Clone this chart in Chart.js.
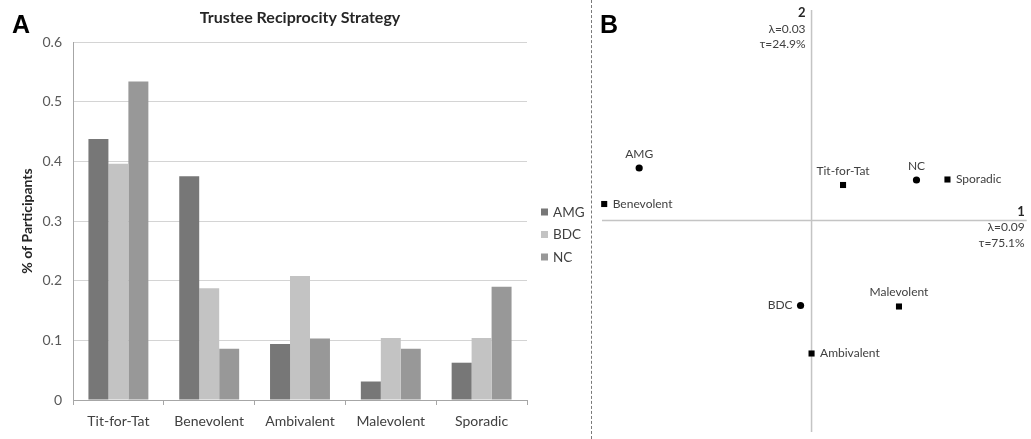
<!DOCTYPE html>
<html><head><meta charset="utf-8">
<script src="https://cdn.jsdelivr.net/npm/chart.js@4"></script>
<style>
html,body{margin:0;padding:0;background:#fff;width:1031px;height:439px;overflow:hidden;}
#a{position:absolute;left:0;top:0;}
#b{position:absolute;left:593px;top:0;}
#sep{position:absolute;left:591px;top:0;width:0;height:439px;border-left:1px dashed #7a7a7a;}
</style></head><body>
<canvas id="a" width="591" height="439"></canvas>
<div id="sep"></div>
<canvas id="b" width="438" height="439"></canvas>
<script>
// ---- Panel A data ----
const categories = ['Tit-for-Tat','Benevolent','Ambivalent','Malevolent','Sporadic'];
const seriesNames = ['AMG','BDC','NC'];
const amgValues = [0.4375, 0.375, 0.094, 0.031, 0.0625];
const bdcValues = [0.396, 0.1875, 0.208, 0.104, 0.104];
const ncValues  = [0.534, 0.086, 0.103, 0.086, 0.19];
const yTickLabels = ['0','0.1','0.2','0.3','0.4','0.5','0.6'];
const chartTitle = 'Trustee Reciprocity Strategy';
const yAxisTitle = '% of Participants';

// ---- Panel B data ----
const groupNames = ['AMG','NC','BDC'];
const groupX = [-0.345, 0.21, -0.022];
const groupY = [0.105, 0.081, -0.170];
const strategyNames = ['Benevolent','Tit-for-Tat','Sporadic','Malevolent','Ambivalent'];
const strategyX = [-0.415, 0.063, 0.272, 0.175, 0.0];
const strategyY = [0.033, 0.071, 0.082, -0.172, -0.266];
const dim1Text = ['1','λ=0.09','τ=75.1%'];
const dim2Text = ['2','λ=0.03','τ=24.9%'];

// styles (not data)
const groupPlacement = ['above','above','left'];
const strategyPlacement = ['right','above','right','above','right'];
const FAM = 'Lato, "Open Sans", sans-serif';
const colors = ['#777777','#c3c3c3','#989898'];

const decorA = {
  id:'decorA',
  afterDraw(chart){
    const c = chart.ctx, ca = chart.chartArea;
    c.save();
    c.fillStyle = '#000';
    c.font = 'bold 25px "Liberation Sans", Arial, sans-serif';
    c.textAlign = 'left'; c.textBaseline = 'alphabetic';
    c.fillText('A', 12, 33);
    c.fillStyle = '#262626';
    c.font = 'bold 16px ' + FAM;
    c.textAlign = 'center'; c.textBaseline = 'middle';
    c.fillText(chartTitle, (ca.left+ca.right)/2, 18);
    // legend
    c.font = '13.5px ' + FAM;
    c.textAlign = 'left';
    chart.data.datasets.forEach((ds,i)=>{
      const y = 212 + 22.5*i;
      c.fillStyle = ds.backgroundColor;
      c.fillRect(ca.right + 14, y-3.5, 7, 7);
      c.fillStyle = '#404040';
      c.fillText(ds.label, ca.right + 26, y+0.5);
    });
    c.restore();
  }
};

new Chart(document.getElementById('a'), {
  type:'bar',
  data:{labels:categories, datasets:[
    {label:seriesNames[0], data:amgValues, backgroundColor:colors[0]},
    {label:seriesNames[1], data:bdcValues, backgroundColor:colors[1]},
    {label:seriesNames[2], data:ncValues, backgroundColor:colors[2]}
  ]},
  options:{
    responsive:false, animation:false,
    layout:{padding:{top:42,right:64,left:0,bottom:0}},
    datasets:{bar:{categoryPercentage:0.66, barPercentage:1}},
    plugins:{legend:{display:false}, tooltip:{enabled:false}},
    scales:{
      x:{
        grid:{offset:true, drawOnChartArea:false, drawTicks:true, tickLength:5, color:'#a6a6a6'},
        border:{color:'#a6a6a6'},
        ticks:{color:'#404040', font:{family:FAM, size:14}, padding:8, maxRotation:0},
        afterFit(s){ s.height = 39; }
      },
      y:{
        min:0, max:0.6,
        ticks:{stepSize:0.1, color:'#595959', font:{family:FAM, size:14}, padding:11,
               callback:(v,i)=>yTickLabels[i]},
        grid:{color:'#d4d4d4', drawTicks:false},
        border:{color:'#a6a6a6'},
        title:{display:true, text:yAxisTitle, color:'#262626',
               font:{family:FAM, size:14, weight:'bold'}, padding:{top:19,bottom:0}},
        afterFit(s){ s.width = 73; }
      }
    }
  },
  plugins:[decorA]
});

const decorB = {
  id:'decorB',
  beforeDatasetsDraw(chart){
    const c = chart.ctx, ca = chart.chartArea;
    const x0 = chart.scales.x.getPixelForValue(0);
    const y0 = chart.scales.y.getPixelForValue(0);
    c.save();
    c.strokeStyle = '#c4c4c4'; c.lineWidth = 1.5;
    c.beginPath();
    c.moveTo(x0, ca.top); c.lineTo(x0, ca.bottom);
    c.moveTo(ca.left, y0); c.lineTo(ca.right, y0);
    c.stroke();
    c.restore();
  },
  afterDatasetsDraw(chart){
    const c = chart.ctx, ca = chart.chartArea;
    const x0 = chart.scales.x.getPixelForValue(0);
    const y0 = chart.scales.y.getPixelForValue(0);
    c.save();
    c.fillStyle = '#000';
    c.font = 'bold 25px "Liberation Sans", Arial, sans-serif';
    c.textAlign = 'left'; c.textBaseline = 'alphabetic';
    c.fillText('B', 7, 33);
    c.textBaseline = 'middle';
    // point labels
    c.font = '12px ' + FAM;
    c.fillStyle = '#404040';
    const lists = [[groupNames, groupPlacement],[strategyNames, strategyPlacement]];
    lists.forEach((lst, di)=>{
      const meta = chart.getDatasetMeta(di);
      meta.data.forEach((el, i)=>{
        const pl = lst[1][i];
        if (pl === 'above'){ c.textAlign='center'; c.fillText(lst[0][i], el.x, el.y-14); }
        else if (pl === 'right'){ c.textAlign='left'; c.fillText(lst[0][i], el.x+8.5, el.y); }
        else { c.textAlign='right'; c.fillText(lst[0][i], el.x-8, el.y); }
      });
    });
    // dimension annotations
    c.textAlign = 'right';
    c.fillStyle = '#262626';
    c.font = 'bold 13px ' + FAM;
    c.fillText(dim2Text[0], x0-6, ca.top+3);
    c.fillText(dim1Text[0], ca.right-2, y0-9);
    c.font = '12px ' + FAM;
    c.fillStyle = '#404040';
    c.fillText(dim2Text[1], x0-6, ca.top+19);
    c.fillText(dim2Text[2], x0-6, ca.top+34);
    c.fillText(dim1Text[1], ca.right-2, y0+7);
    c.fillText(dim1Text[2], ca.right-2, y0+23);
    c.restore();
  }
};

new Chart(document.getElementById('b'), {
  type:'scatter',
  data:{datasets:[
    {label:'Groups', data:groupNames.map((n,i)=>({x:groupX[i], y:groupY[i]})),
     pointStyle:'circle', pointRadius:3.6, backgroundColor:'#000', borderColor:'#000', borderWidth:0, clip:false},
    {label:'Strategies', data:strategyNames.map((n,i)=>({x:strategyX[i], y:strategyY[i]})),
     pointStyle:'rect', pointRadius:4.3, backgroundColor:'#000', borderColor:'#000', borderWidth:0, clip:false}
  ]},
  options:{
    responsive:false, animation:false,
    layout:{padding:{left:9,right:4,top:10,bottom:7}},
    plugins:{legend:{display:false}, tooltip:{enabled:false}},
    scales:{
      x:{display:false, min:-0.4194, max:0.4306},
      y:{display:false, min:-0.423, max:0.421}
    }
  },
  plugins:[decorB]
});
</script>
</body></html>
